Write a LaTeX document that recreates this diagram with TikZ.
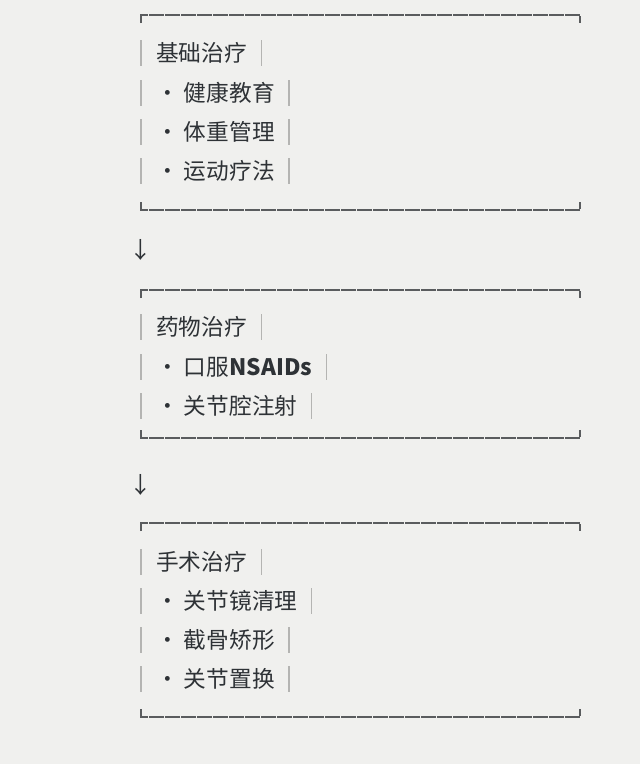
\documentclass[tikz,border=0pt]{standalone}
\usepackage{fontspec}
\setmainfont{Noto Sans CJK SC}
\definecolor{bg}{HTML}{F0F0EE}
\definecolor{ink}{HTML}{2E3236}
\definecolor{rule}{HTML}{5A5C5E}
\definecolor{bar}{HTML}{B4B4B2}
\newcommand{\myboxframe}[2]{%
  \draw[frame] (141,#1+8) -- (141,#1) -- (580,#1) -- (580,#1+8);
  \draw[frame] (141,#2-8) -- (141,#2) -- (580,#2) -- (580,#2-8);}
\newcommand{\myrowbar}[2]{%
  \draw[vbar] (141,#2-13) -- (141,#2+13);
  \draw[vbar] ([xshift=10.5pt]#1.east |- 0,#2-13) -- ([xshift=10.5pt]#1.east |- 0,#2+13);}
\begin{document}
\begin{tikzpicture}[x=0.75pt,y=-0.75pt,
  txt/.style={anchor=west,inner sep=0pt,text=ink,font=\fontsize{17}{20}\selectfont},
  frame/.style={draw=rule,line width=0.9pt,dash pattern=on 11pt off 1pt},
  vbar/.style={draw=bar,line width=1pt},
  arr/.style={inner sep=0pt,text=ink,font=\fontsize{17}{20}\selectfont}]
\fill[bg] (0,0) rectangle (640,764);
\useasboundingbox (0,0) rectangle (640,764);
% box 1
\myboxframe{15}{210}
\node[txt] (h1) at (156,53) {基础治疗};
\node[txt] (a1) at (156,93) {• 健康教育};
\node[txt] (a2) at (156,132) {• 体重管理};
\node[txt] (a3) at (156,171) {• 运动疗法};
\myrowbar{h1}{53}\myrowbar{a1}{93}\myrowbar{a2}{132}\myrowbar{a3}{171}
\node[arr] (ar1) at (141,250) {↓};
% box 2
\myboxframe{290}{438}
\node[txt] (h2) at (156,327) {药物治疗};
\node[txt] (b1) at (156,367) {• 口服\textbf{NSAIDs}};
\node[txt] (b2) at (156,406) {• 关节腔注射};
\myrowbar{h2}{327}\myrowbar{b1}{367}\myrowbar{b2}{406}
\node[arr] (ar2) at (141,485) {↓};
% box 3
\myboxframe{523}{717}
\node[txt] (h3) at (156,562) {手术治疗};
\node[txt] (c1) at (156,601) {• 关节镜清理};
\node[txt] (c2) at (156,640) {• 截骨矫形};
\node[txt] (c3) at (156,679) {• 关节置换};
\myrowbar{h3}{562}\myrowbar{c1}{601}\myrowbar{c2}{640}\myrowbar{c3}{679}
\end{tikzpicture}
\end{document}
